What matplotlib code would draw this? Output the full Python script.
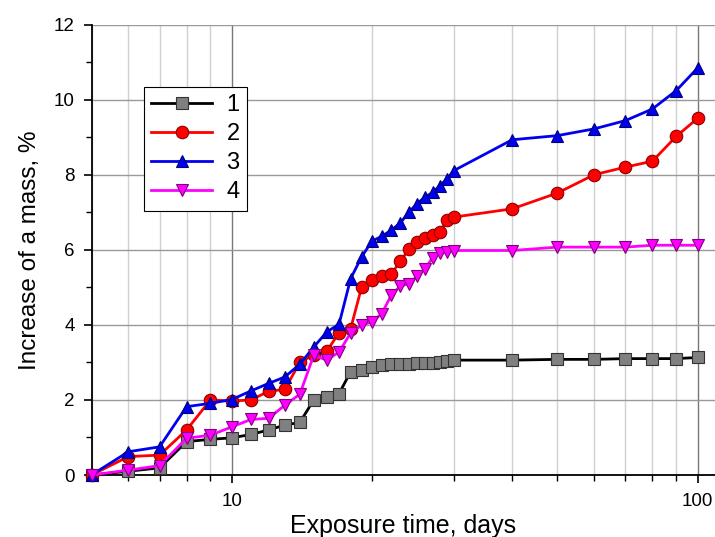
import matplotlib
matplotlib.use("Agg")
import matplotlib.pyplot as plt
from matplotlib.ticker import FixedLocator, NullFormatter, FixedFormatter

plt.rcParams['font.family'] = ['Liberation Sans', 'DejaVu Sans']

days = [5, 6, 7, 8, 9, 10, 11, 12, 13, 14, 15, 16, 17, 18, 19, 20, 21, 22, 23,
        24, 25, 26, 27, 28, 29, 30, 40, 50, 60, 70, 80, 90, 100]

s1 = [0.0, 0.1, 0.19, 0.89, 0.95, 0.99, 1.08, 1.2, 1.33, 1.4, 2.0, 2.08, 2.17,
      2.75, 2.79, 2.88, 2.94, 2.96, 2.97, 2.97, 2.98, 2.98, 2.99, 3.0, 3.03,
      3.06, 3.06, 3.08, 3.08, 3.1, 3.1, 3.1, 3.13]
s2 = [0.0, 0.49, 0.53, 1.2, 2.0, 1.97, 2.0, 2.23, 2.28, 3.0, 3.2, 3.3, 3.79,
      3.9, 5.0, 5.2, 5.3, 5.35, 5.69, 6.01, 6.2, 6.3, 6.38, 6.47, 6.8, 6.87,
      7.09, 7.51, 8.0, 8.2, 8.36, 9.02, 9.5]
s3 = [0.0, 0.62, 0.75, 1.82, 1.91, 2.01, 2.24, 2.44, 2.61, 2.95, 3.41, 3.81,
      4.02, 5.23, 5.81, 6.23, 6.36, 6.52, 6.71, 7.0, 7.23, 7.4, 7.53, 7.71,
      7.89, 8.11, 8.93, 9.04, 9.22, 9.44, 9.75, 10.24, 10.84]
s4 = [0.0, 0.13, 0.25, 0.98, 1.06, 1.28, 1.48, 1.51, 1.86, 2.15, 3.19, 3.06,
      3.28, 3.78, 3.99, 4.08, 4.3, 4.79, 5.03, 5.1, 5.29, 5.5, 5.79, 5.91,
      5.94, 5.98, 5.98, 6.07, 6.07, 6.07, 6.12, 6.12, 6.12]

labels = ['1', '2', '3', '4']
series = [s1, s2, s3, s4]
line_colors = ['black', 'red', '#0000ee', '#ff00ff']
face_colors = ['#808080', 'red', '#0000ee', '#ff00ff']
edge_colors = ['#333333', '#8b0000', '#00007a', '#800080']
markers = ['s', 'o', '^', 'v']

x_major = [10, 100]
x_major_labels = ['10', '100']
y_major = [0, 2, 4, 6, 8, 10, 12]

fig = plt.figure(figsize=(7.15, 5.37), dpi=100)
ax = fig.add_axes([91.5 / 715, 1 - 475 / 537, 1 - 91.5 / 715, (475 - 24.5) / 537])

for ys, lab, lc, fc, ec, m in zip(series, labels, line_colors, face_colors, edge_colors, markers):
    ax.plot(days, ys, color=lc, lw=2.0, marker=m, markersize=9,
            markerfacecolor=fc, markeredgecolor=ec, markeredgewidth=0.8,
            label=lab, zorder=3, clip_on=False)

ax.set_xscale('log')
ax.set_xlim(5, 109)
ax.set_ylim(0, 12)

ax.xaxis.set_major_locator(FixedLocator(x_major))
ax.xaxis.set_major_formatter(FixedFormatter(x_major_labels))
minor_x = [5, 6, 7, 8, 9, 20, 30, 40, 50, 60, 70, 80, 90]
ax.xaxis.set_minor_locator(FixedLocator(minor_x))
ax.xaxis.set_minor_formatter(NullFormatter())
ax.yaxis.set_major_locator(FixedLocator(y_major))
ax.yaxis.set_minor_locator(FixedLocator([1, 3, 5, 7, 9, 11]))

ax.grid(True, which='major', axis='x', color='#777777', lw=1.0)
ax.grid(True, which='minor', axis='x', color='#d0d0d0', lw=1.0)
ax.grid(True, which='major', axis='y', color='#999999', lw=1.0)
ax.set_axisbelow(True)

for side in ['top', 'right']:
    ax.spines[side].set_visible(False)
for side in ['left', 'bottom']:
    ax.spines[side].set_linewidth(1.3)
    ax.spines[side].set_color('black')

ax.tick_params(axis='both', which='major', direction='out', length=6, width=1.2,
               labelsize=13.5)
ax.tick_params(axis='x', which='major', pad=7)
ax.tick_params(axis='y', which='major', pad=6)
ax.tick_params(axis='both', which='minor', direction='out', length=4, width=1.0)

ax.set_xlabel('Exposure time, days', fontsize=18, labelpad=3)
ax.set_ylabel('Increase of a mass, %', fontsize=17.5, labelpad=9)

leg = ax.legend(loc='upper left', bbox_to_anchor=(0.084, 0.861), fontsize=17,
                frameon=True, fancybox=False, edgecolor='black', framealpha=1,
                handlelength=2.6, borderpad=0.3, labelspacing=0.3,
                handletextpad=0.6, borderaxespad=0)
leg.get_frame().set_linewidth(0.8)

fig.savefig('out.png', dpi=100)
